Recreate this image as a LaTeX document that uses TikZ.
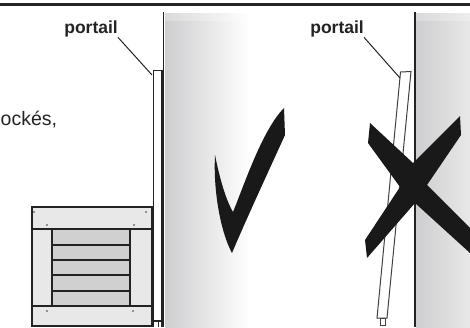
\documentclass[tikz,border=0pt]{standalone}
\usepackage{xcolor}
\usepackage{fontspec}
\setmainfont{Liberation Sans}
\usetikzlibrary{positioning}
\definecolor{inkdark}{RGB}{35, 35, 35}
\definecolor{wallgray}{RGB}{206, 206, 208}
\definecolor{framegray}{RGB}{232, 232, 232}
\definecolor{slatgray}{RGB}{208, 208, 208}

\begin{document}
\begin{tikzpicture}[x=1pt, y=-1pt,
    calltext/.style={font=\fontsize{17.5}{18}\selectfont\bfseries, text=inkdark, inner sep=0pt},
    leader/.style={draw=inkdark, line width=1pt},
    boxline/.style={draw=inkdark, line width=2pt},
    mark cross/.style={fill=black!90, draw=none}]
  \useasboundingbox (0,0) rectangle (470,327);

  \shade[left color=wallgray, right color=white] (165,13) rectangle (250,327);
  \shade[left color=wallgray, right color=framegray] (416,13) rectangle (470,327);
  \fill[white, opacity=0.25] (165,13) rectangle (250,21);
  \fill[white, opacity=0.25] (416,13) rectangle (470,21);

  \draw[inkdark, line width=2.2pt] (0,4.5) -- (470,4.5);
  \draw[inkdark, line width=1.2pt] (163.5,12) -- (163.5,327);
  \draw[inkdark, line width=1.1pt] (415,12) -- (415,327);

  % gate against the wall
  \draw[inkdark, line width=1.3pt, fill=white] (153.5,321) -- (153.5,70.5) -- (162,70.5) -- (162,321) -- cycle;
  \draw[inkdark, line width=2.6pt] (162,70.5) -- (162,327);
  \foreach \x in {153.5,158} {
    \draw[inkdark, line width=1pt] (\x,320) -- (\x,327);
  }
  \coordinate (gatetopA) at (152,75);

  % gate leaning
  \draw[black!75, line width=1pt, fill=white] (400.5,72) -- (411,71.5) -- (387,318) -- (377,318) -- cycle;
  \draw[black!75, line width=1pt, fill=white] (380,318) rectangle (385,325);
  \coordinate (gatetopB) at (400,78);

  % crate
  \draw[boxline, fill=framegray] (31.5,207) rectangle (151.5,326);
  \draw[boxline, fill=slatgray] (52,229) rectangle (130,306);
  \draw[boxline] (31.5,229) -- (151.5,229);
  \draw[boxline] (31.5,306) -- (151.5,306);
  \foreach \y in {245,260,275,291} {
    \draw[inkdark, line width=1.7pt] (52,\y) -- (130,\y);
  }
  \foreach \x/\y in {34/212, 146/212, 47/225, 134/225, 47/311, 133/311} {
    \fill[black!55] (\x,\y) circle (1.2);
  }

  % check mark
  \fill[mark cross] (284,108) -- (285,135) .. controls (270,168) and (245,222) .. (232,253)
    .. controls (222,235) and (213,195) .. (215,155)
    .. controls (220,180) and (226,200) .. (233,212)
    .. controls (243,188) and (262,130) .. (284,108) -- cycle;

  % cross
  \fill[mark cross] (370,123) -- (413,163) -- (460,116) -- (461,135) -- (427,185) -- (470,228) -- (470,253)
    -- (415,203) -- (367,258) -- (365,240) -- (400,187) -- (368,143) -- cycle;

  \node[calltext, anchor=east] (portailA) at (118,29) {portail};
  \node[calltext, anchor=east] (portailB) at (364,29) {portail};
  \draw[leader] (portailA.south east) -- (gatetopA);
  \draw[leader] (portailB.south east) -- (gatetopB);

  \node[anchor=west, inner sep=0pt, text=inkdark, font=\fontsize{19.5}{20}\selectfont] (blockedtext) at (0.5,120) {ockés,};
\end{tikzpicture}
\end{document}
